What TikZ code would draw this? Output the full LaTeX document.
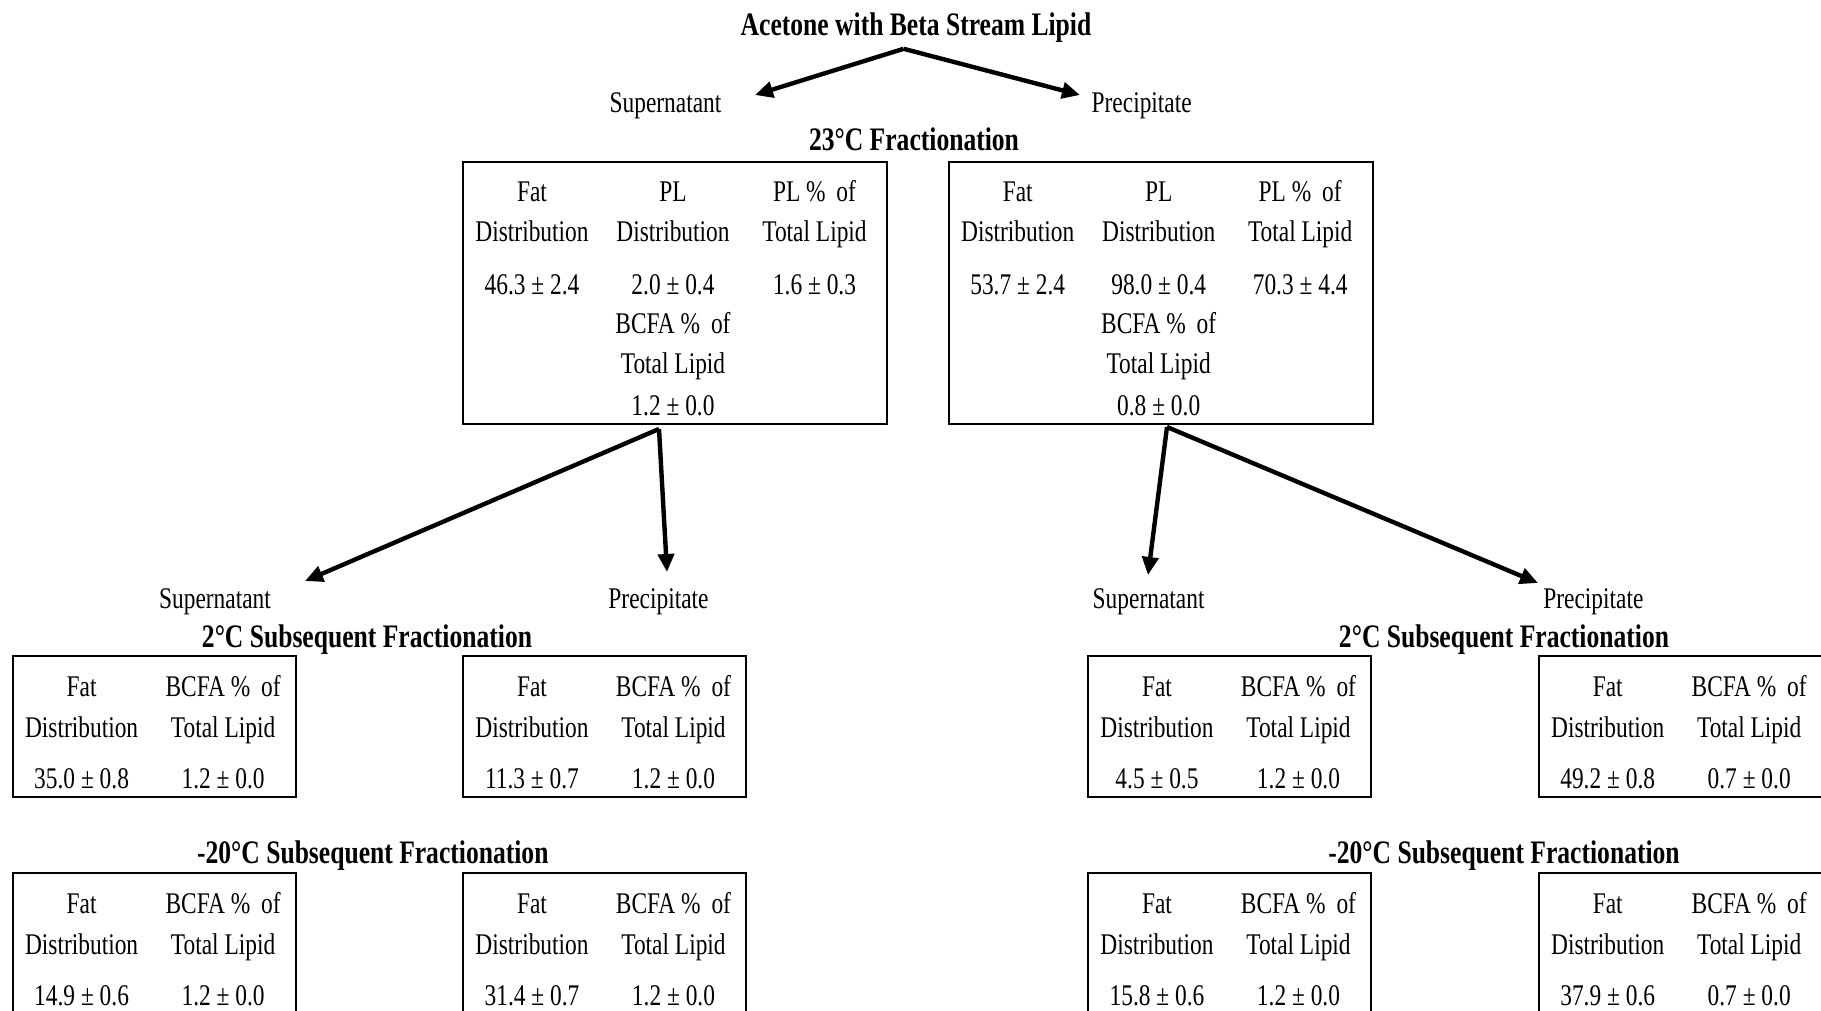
\documentclass[tikz,border=0pt]{standalone}
\usepackage{fontspec}
\setmainfont{Liberation Serif}[FakeStretch=0.78]
\usetikzlibrary{arrows.meta}
\begin{document}
\begin{tikzpicture}[x=0.5pt,y=-0.5pt,
  txt/.style={font=\fontsize{15}{18}\selectfont, inner sep=0, anchor=base},
  ttl/.style={font=\fontsize{16.4}{19}\selectfont\bfseries, inner sep=0, anchor=base},
  bigbox/.style={draw, line width=1pt, inner sep=0, anchor=north west, minimum width=212pt, minimum height=130.6pt},
  smallbox/.style={draw, line width=1pt, inner sep=0, anchor=north west, minimum width=141.7pt, minimum height=70.3pt},
  arr/.style={line width=2.2pt, -{Triangle[length=9pt,width=8pt]}}]
\useasboundingbox (0,0) rectangle (1821,1011);

% title and first split
\node[ttl] (title) at (916,36) {Acetone with Beta Stream Lipid};
\coordinate (a0) at (903.6,48.8);
\coordinate (t0l) at (755,95);
\coordinate (t0r) at (1080,95);
\draw[arr] (a0) -- (t0l);
\draw[arr] (a0) -- (t0r);
\node[txt] (sup0) at (665.5,113) {Supernatant};
\node[txt] (pre0) at (1141.7,113) {Precipitate};
\node[ttl] (f23) at (914,151) {23°C Fractionation};

% big boxes
\node[bigbox] (bL) at (462,161.4) {};
\node[bigbox] (bR) at (947.7,161.4) {};

\foreach \bx/\nm/\va/\vb/\vc/\vd in {462/L/46.3 ± 2.4/2.0 ± 0.4/1.6 ± 0.3/1.2 ± 0.0,
                                    947.7/R/53.7 ± 2.4/98.0 ± 0.4/70.3 ± 4.4/0.8 ± 0.0}{
  \node[txt] (\nm c1r1) at (\bx+70,201) {Fat};
  \node[txt] (\nm c2r1) at (\bx+211,201) {PL};
  \node[txt] (\nm c3r1) at (\bx+352.5,201) {PL \%\, of};
  \node[txt] (\nm c1r2) at (\bx+70,242) {Distribution};
  \node[txt] (\nm c2r2) at (\bx+211,242) {Distribution};
  \node[txt] (\nm c3r2) at (\bx+352.5,242) {Total Lipid};
  \node[txt] (\nm c1r3) at (\bx+70,294) {\va};
  \node[txt] (\nm c2r3) at (\bx+211,294) {\vb};
  \node[txt] (\nm c3r3) at (\bx+352.5,294) {\vc};
  \node[txt] (\nm c2r4) at (\bx+211,333) {BCFA \%\, of};
  \node[txt] (\nm c2r5) at (\bx+211,373) {Total Lipid};
  \node[txt] (\nm c2r6) at (\bx+211,415) {\vd};
}

% second level arrows
\coordinate (aL) at (659,429);
\coordinate (tLl) at (305,581);
\coordinate (tLr) at (667,572);
\coordinate (aR) at (1167,427);
\coordinate (tRl) at (1148,575);
\coordinate (tRr) at (1538,583);
\draw[arr] (aL) -- (tLl);
\draw[arr] (aL) -- (tLr);
\draw[arr] (aR) -- (tRl);
\draw[arr] (aR) -- (tRr);

\node[txt] (supL) at (215,608) {Supernatant};
\node[txt] (preL) at (658.5,608) {Precipitate};
\node[txt] (supR) at (1148.6,608) {Supernatant};
\node[txt] (preR) at (1593.4,608) {Precipitate};

\node[ttl] (f2L) at (367,647) {2°C Subsequent Fractionation};
\node[ttl] (f2R) at (1504,647) {2°C Subsequent Fractionation};
\node[ttl] (f20L) at (372.8,863) {-20°C Subsequent Fractionation};
\node[ttl] (f20R) at (1504,863) {-20°C Subsequent Fractionation};

% small boxes
\foreach \bx/\by/\nm/\va/\vb in {
  11.6/655/sA/35.0 ± 0.8/1.2 ± 0.0,
  462/655/sB/11.3 ± 0.7/1.2 ± 0.0,
  1087/655/sC/4.5 ± 0.5/1.2 ± 0.0,
  1537.7/655/sD/49.2 ± 0.8/0.7 ± 0.0,
  11.6/872/sE/14.9 ± 0.6/1.2 ± 0.0,
  462/872/sF/31.4 ± 0.7/1.2 ± 0.0,
  1087/872/sG/15.8 ± 0.6/1.2 ± 0.0,
  1537.7/872/sH/37.9 ± 0.6/0.7 ± 0.0}{
  \node[smallbox] (\nm) at (\bx,\by) {};
  \node[txt] (\nm a1) at (\bx+70,\by+41) {Fat};
  \node[txt] (\nm b1) at (\bx+211.5,\by+41) {BCFA \%\, of};
  \node[txt] (\nm a2) at (\bx+70,\by+82) {Distribution};
  \node[txt] (\nm b2) at (\bx+211.5,\by+82) {Total Lipid};
  \node[txt] (\nm a3) at (\bx+70,\by+133) {\va};
  \node[txt] (\nm b3) at (\bx+211.5,\by+133) {\vb};
}
\end{tikzpicture}
\end{document}
